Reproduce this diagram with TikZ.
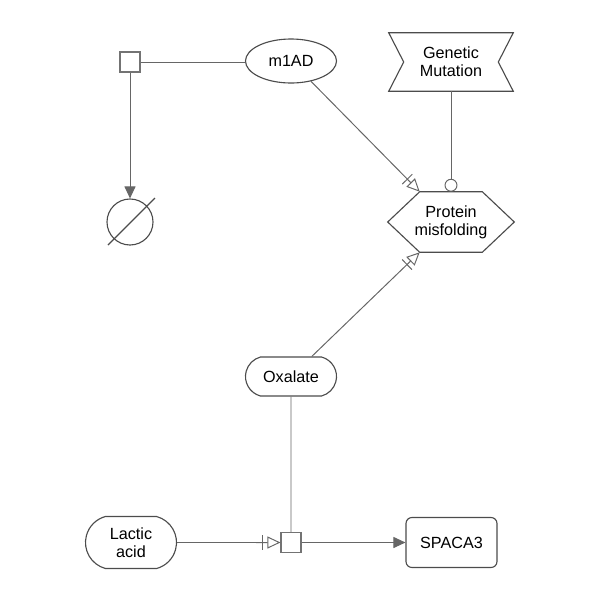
\documentclass[tikz,border=0pt]{standalone}
\usepackage{fontspec}
\setsansfont{Liberation Sans}
\usetikzlibrary{arrows.meta,shapes.geometric,shapes.misc}

\begin{document}
\begin{tikzpicture}[x=0.025cm, y=-0.025cm,
                    every node/.style={font=\sffamily\fontsize{11.5}{13}\selectfont, align=center},
                    glyph/.style={draw=black!70, line width=0.8pt, inner sep=0pt},
                    outline/.style={inner sep=0pt},
                    process/.style={glyph, draw=black!55, rectangle, minimum size=0.5cm},
                    unspec/.style={glyph, ellipse, minimum width=2.275cm, minimum height=1.1cm},
                    simplechem/.style={glyph, rounded rectangle, rounded rectangle arc length=150, minimum width=2.275cm},
                    macromol/.style={glyph, rounded corners=0.15cm, minimum width=2.275cm, minimum height=1.25cm},
                    sink/.style={glyph, circle, minimum size=1.15cm},
                    link/.style={draw=black!60, line width=0.7pt},
                    produce/.style={link, -{Triangle[length=8.5pt,width=7.8pt]}},
                    needs/.style={link, -{Bar[width=10pt,sep=3pt]Triangle[open,length=9.2pt,width=8.5pt]}},
                    catal/.style={link, -{Circle[open,length=9.2pt]}}]
   \useasboundingbox (0,0) rectangle (600,600);

   \node[process] (proc1) at (130,62) {};
   \node[unspec] (m1ad) at (291,61) {m1AD};
   \node[sink] (sink) at (130,222) {};
   \draw[glyph] ([shift={(-22,23)}]sink.center) -- ([shift={(25,-24)}]sink.center);

   % perturbation
   \node[outline, minimum width=3.1cm, minimum height=1.45cm] (mutation) at (451,62) {Genetic\\Mutation};
   \draw[glyph] (mutation.north west) -- (mutation.north east) -- ([xshift=-0.375cm]mutation.east)
       -- (mutation.south east) -- (mutation.south west) -- ([xshift=0.375cm]mutation.west) -- cycle;

   % phenotype
   \node[outline, minimum width=3.15cm, minimum height=1.5cm] (misfold) at (451,222) {Protein\\misfolding};
   \draw[glyph] (misfold.west) -- ([xshift=0.8cm]misfold.north west) -- ([xshift=-0.8cm]misfold.north east)
       -- (misfold.east) -- ([xshift=-0.8cm]misfold.south east) -- ([xshift=0.8cm]misfold.south west) -- cycle;
   \coordinate (misfold-tl) at ([xshift=0.8cm]misfold.north west);
   \coordinate (misfold-bl) at ([xshift=0.8cm]misfold.south west);

   \node[simplechem, minimum height=0.975cm] (oxalate) at (291,376.5) {Oxalate};
   \node[process] (proc2) at (291,542.5) {};
   \node[simplechem, minimum height=1.3cm] (lactic) at (131,542.5) {Lactic\\acid};
   \node[macromol] (spaca) at (451.5,542.5) {SPACA3};

   % arcs
   \draw[link] (proc1) -- (proc1 -| m1ad.west);
   \draw[produce] (proc1) -- (sink);
   \draw[needs] (m1ad) -- (misfold-tl);
   \draw[catal] (mutation) -- (misfold);
   \draw[needs] (oxalate) -- (misfold-bl);
   \draw[link] (oxalate) -- (proc2);
   \draw[needs] (lactic) -- (proc2);
   \draw[produce] (proc2) -- (spaca);
\end{tikzpicture}
\end{document}
